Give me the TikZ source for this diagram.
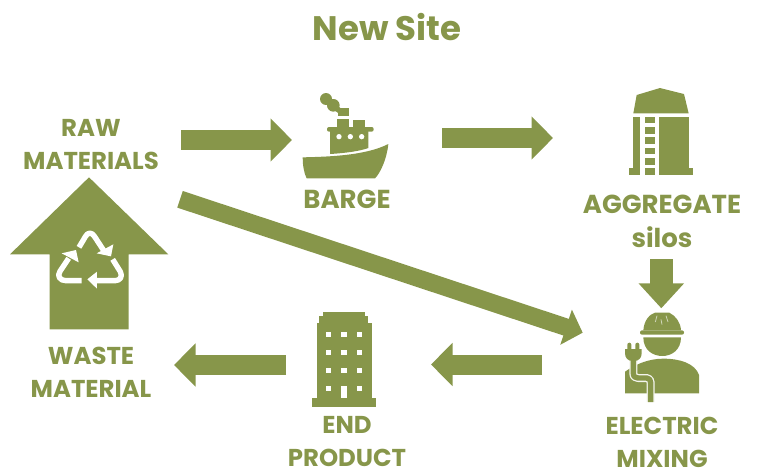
\documentclass[tikz,border=0pt]{standalone}
\usepackage{fontspec}
\setmainfont{Poppins}
\usetikzlibrary{arrows.meta}
\definecolor{olive}{HTML}{87964A}
\tikzset{
  x=1pt,y=-1pt,
  lbl/.style={text=olive,font=\fontsize{24.4}{33}\selectfont\bfseries,align=center,inner sep=0pt},
  lblw/.style={text=olive,font=\fontsize{26}{34}\selectfont\bfseries,align=center,inner sep=0pt},
  ttl/.style={text=olive,font=\fontsize{34}{40}\selectfont\bfseries,inner sep=0pt},
  blockh/.style={draw=olive,line width=20pt,-{Triangle[width=42pt,length=21.5pt]}},
  blockd/.style={draw=olive,line width=17.5pt,-{Triangle[width=36pt,length=17.5pt]}},
  blockv/.style={draw=olive,line width=22.7pt,-{Triangle[width=44pt,length=25pt]}},
  ico/.style={fill=olive,draw=none},
  hole/.style={fill=white,draw=none},
  wl/.style={draw=white,line width=5.4pt,line cap=butt,line join=round},
}
\begin{document}
\begin{tikzpicture}
\useasboundingbox (0,0) rectangle (757,469);
\node[ttl] (title) at (387,27) {New Site};
\node[lbl] (raw) at (91,145) {RAW\\MATERIALS};
\node[lblw] (barge) at (347,199) {BARGE};
\node[lblw] (agg) at (662,221) {AGGREGATE\\silos};
\node[lbl] (waste) at (91,372) {WASTE\\MATERIAL};
\node[lbl] (endp) at (347,442) {END\\PRODUCT};
\node[lbl] (mix) at (662,442) {ELECTRIC\\MIXING};
% connector ends
\coordinate (a1s) at (181,140); \coordinate (a1e) at (292,140);
\coordinate (a2s) at (442,138); \coordinate (a2e) at (553,138);
\coordinate (a3s) at (180,199.3); \coordinate (a3e) at (582.7,332.7);
\coordinate (a4s) at (661.3,259.3); \coordinate (a4e) at (661.3,308.3);
\coordinate (a5s) at (542,364.5); \coordinate (a5e) at (431,364.5);
\coordinate (a6s) at (286,365); \coordinate (a6e) at (174,365);
\draw[blockh] (a1s) -- (a1e);
\draw[blockh] (a2s) -- (a2e);
\draw[blockd] (a3s) -- (a3e);
\draw[blockv] (a4s) -- (a4e);
\draw[blockh] (a5s) -- (a5e);
\draw[blockh] (a6s) -- (a6e);
% up arrow with recycling mark
\begin{scope}[shift={(0,170)},scale=1/3]
\fill[ico] (267,22) -- (505,253) -- (386,253) -- (386,478) -- (149,478) -- (149,253) -- (30,253) -- cycle;
\draw[wl] (237,232) -- (256,200) .. controls (263,186) and (276,186) .. (284,200) -- (314,246);
\fill[hole] (340,223) -- (290,250) -- (333,259) -- cycle;
\draw[wl] (338,268) -- (361,305) .. controls (369,320) and (360,332) .. (345,332) -- (288,332);
\fill[hole] (291,305) -- (262,328) -- (291,356) -- cycle;
\draw[wl] (245,332) -- (198,332) .. controls (180,332) and (170,318) .. (180,304) -- (206,265);
\fill[hole] (185,250) -- (228,240) -- (236,277) -- cycle;
\end{scope}
% barge
\begin{scope}[shift={(290,80)},scale=1/3]
\fill[ico] (38,232) .. controls (130,230) and (230,225) .. (295,192) .. controls (290,240) and (270,280) .. (255,295) -- (50,295) .. controls (42,280) and (38,255) .. (38,232) -- cycle;
\fill[ico] (120,150) -- (120,222) .. controls (170,219) and (210,213) .. (235,204) -- (235,150) -- cycle;
\fill[ico,rounded corners=2pt] (111,141) rectangle (251,155);
\fill[ico] (140,116) rectangle (177,141);
\fill[ico] (190,120) rectangle (226,141);
\fill[ico] (143,85) rectangle (177,108);
\fill[ico] (108,57) circle (18);
\fill[ico] (130,76) circle (19);
\fill[ico] (125,60) -- (152,85) -- (146,100) -- (112,76) -- cycle;
\foreach \p in {147,181,215} \fill[hole] (\p,170) circle (8);
\end{scope}
% silo
\begin{scope}[shift={(610,80)},scale=1/3]
\fill[ico] (70,100) -- (80,45) -- (150,24) -- (222,42) -- (236,100) -- cycle;
\fill[ico] (70,110) rectangle (90,285);
\fill[ico] (148,110) rectangle (236,285);
\fill[ico] (57,264) rectangle (90,285);
\fill[ico] (148,264) rectangle (248,285);
\foreach \q in {110,141,172,203,234,265} \fill[ico] (104,\q) rectangle (134,\q+20);
\end{scope}
% worker
\begin{scope}[shift={(600,300)},scale=1/3]
\fill[ico] (130,91) .. controls (132,60) and (150,42) .. (165,38) -- (208,38) .. controls (228,48) and (242,68) .. (243,91) -- cycle;
\fill[ico,rounded corners=2pt] (120,91) rectangle (252,104);
\draw[draw=white!60!olive,line width=.8pt] (183,58) -- (186,74);
\draw[draw=white!60!olive,line width=.8pt] (171,47) -- (166,66);
\draw[draw=white!60!olive,line width=.8pt] (198,47) -- (204,66);
\fill[ico] (130,112) -- (243,112) .. controls (243,150) and (215,168) .. (187,168) .. controls (158,168) and (130,150) .. (130,112) -- cycle;
\fill[ico] (75,280) -- (75,215) .. controls (110,190) and (150,176) .. (190,176) .. controls (240,176) and (285,190) .. (297,225) -- (297,280) -- cycle;
\draw[draw=white!90!olive,line width=8pt,line join=round] (100,178) -- (100,220) .. controls (100,230) and (106,234) .. (114,234) -- (140,234) .. controls (148,234) and (152,240) .. (152,248) -- (152,306);
\draw[draw=olive,line width=5.4pt,line join=round] (100,178) -- (100,220) .. controls (100,230) and (106,234) .. (114,234) -- (140,234) .. controls (148,234) and (152,240) .. (152,248) -- (152,306);
\fill[ico,rounded corners=2pt] (82,128) rectangle (94,156);
\fill[ico,rounded corners=2pt] (106,128) rectangle (118,156);
\fill[ico] (75,147) -- (125,147) -- (125,160) .. controls (125,175) and (115,180) .. (110,182) -- (90,182) .. controls (85,180) and (75,175) .. (75,160) -- cycle;
\end{scope}
% building
\begin{scope}[shift={(300,300)},scale=1/3]
\fill[ico] (70,35) rectangle (195,50);
\fill[ico] (58,48) rectangle (205,70);
\fill[ico] (50,68) rectangle (215,295);
\fill[ico] (36,295) rectangle (228,320);
\foreach \q in {104,157,211,265} \foreach \p in {85,179} \fill[hole] (\p-8,\q-8) rectangle (\p+8,\q+8);
\foreach \q in {104,157,211} \fill[hole] (124,\q-8) rectangle (140,\q+8);
\fill[hole] (124,257) rectangle (140,293);
\end{scope}
\end{tikzpicture}
\end{document}
